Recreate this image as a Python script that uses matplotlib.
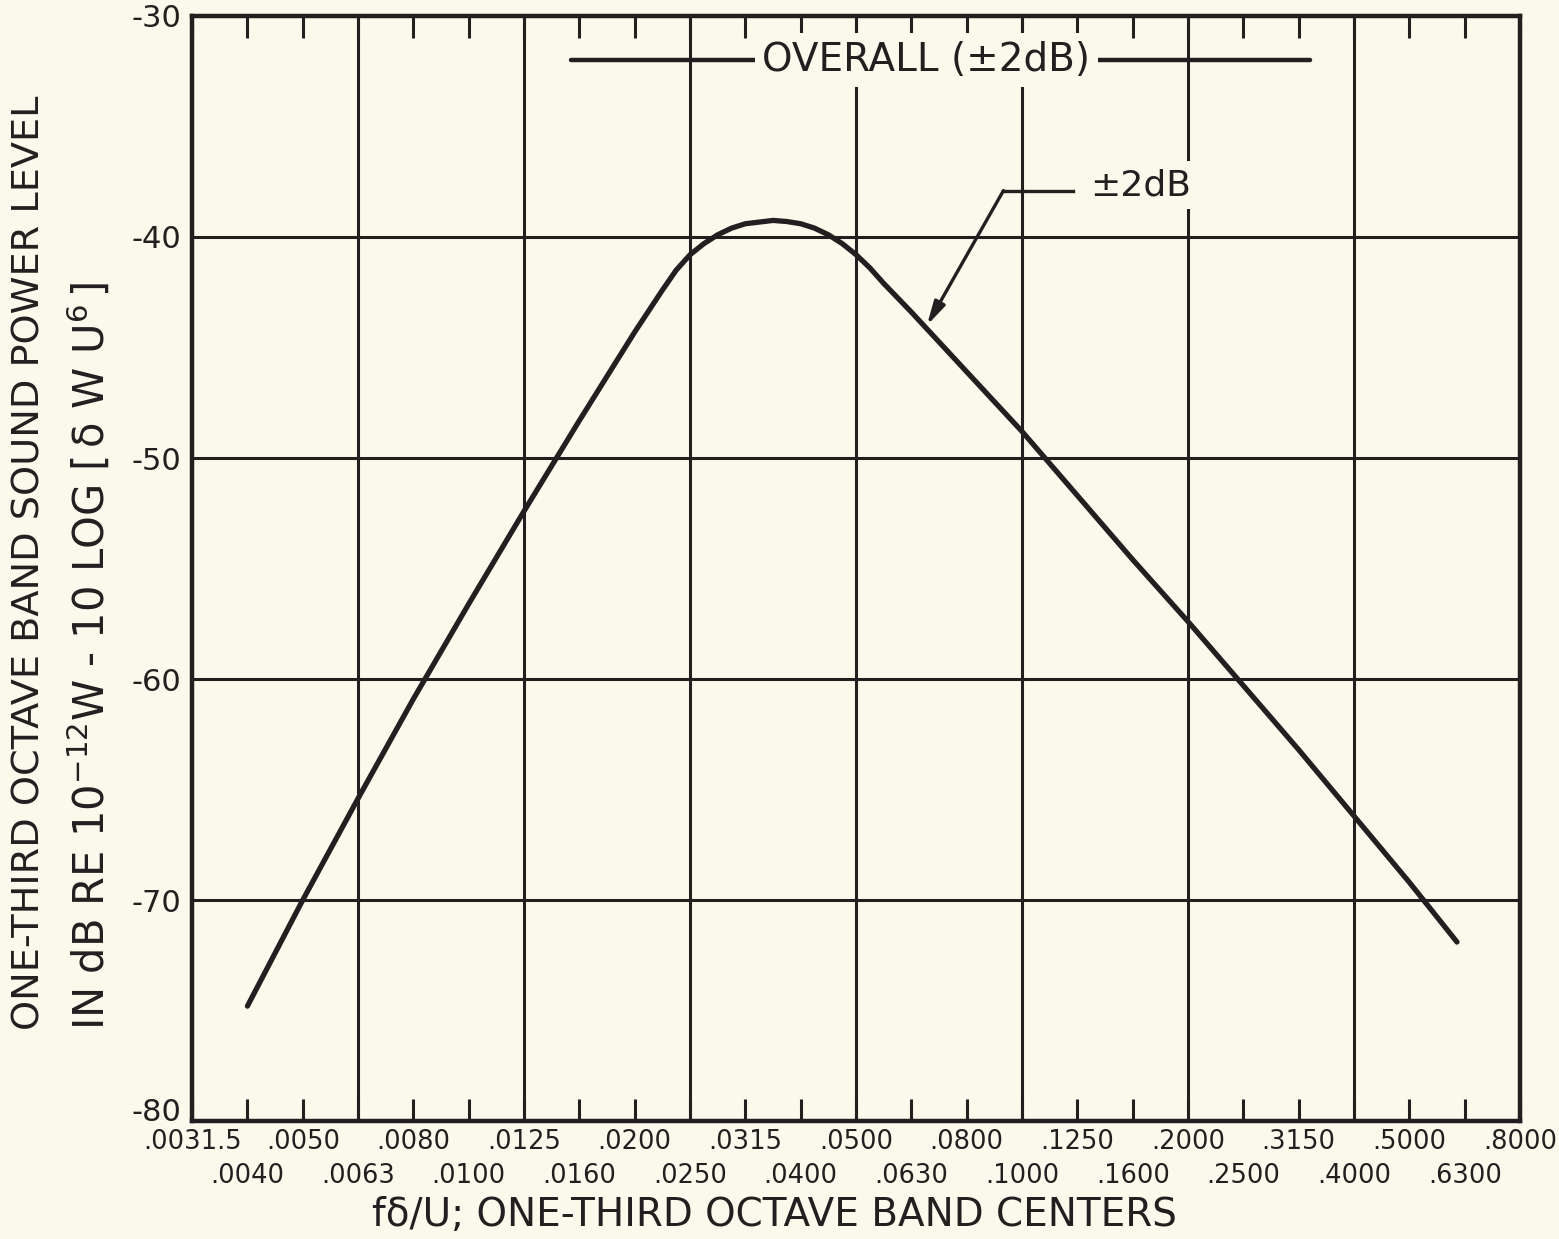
import matplotlib
matplotlib.use("Agg")
import matplotlib.pyplot as plt
from matplotlib.ticker import FixedLocator, FixedFormatter
from matplotlib.transforms import ScaledTranslation

# one-third octave band centers (f delta / U), preferred-number values
band_centers = [0.003162, 0.003981, 0.005012, 0.00631, 0.007943, 0.01, 0.01259,
                0.01585, 0.01995, 0.02512, 0.03162, 0.03981, 0.05012, 0.0631,
                0.07943, 0.1, 0.1259, 0.1585, 0.1995, 0.2512, 0.3162, 0.3981,
                0.5012, 0.631, 0.7943]
upper_labels = [".0031.5", ".0050", ".0080", ".0125", ".0200", ".0315", ".0500",
                ".0800", ".1250", ".2000", ".3150", ".5000", ".8000"]
lower_labels = [".0040", ".0063", ".0100", ".0160", ".0250", ".0400", ".0630",
                ".1000", ".1600", ".2500", ".4000", ".6300"]
grid_bands = [0.00631, 0.01259, 0.02512, 0.05012, 0.1, 0.1995, 0.3981]
y_ticks = [-80, -70, -60, -50, -40, -30]
y_labels = ["-80", "-70", "-60", "-50", "-40", "-30"]

# spectrum curve
curve_f = [0.003981, 0.005012, 0.00631, 0.007943, 0.01, 0.01259, 0.01585,
           0.01995, 0.02239, 0.02371, 0.02512, 0.02661, 0.02818, 0.02985,
           0.03162, 0.03548, 0.03758, 0.03981, 0.04217, 0.04467, 0.04732,
           0.05012, 0.05309, 0.05623, 0.0631, 0.07943, 0.1, 0.1259, 0.1585,
           0.1995, 0.2512, 0.3162, 0.3981, 0.5012, 0.611]
curve_db = [-74.8, -70.0, -65.4, -60.9, -56.6, -52.4, -48.3, -44.3, -42.4,
            -41.5, -40.8, -40.3, -39.9, -39.6, -39.4, -39.25, -39.3, -39.4,
            -39.6, -39.9, -40.3, -40.8, -41.4, -42.1, -43.4, -46.1, -48.8,
            -51.7, -54.6, -57.4, -60.3, -63.2, -66.2, -69.2, -71.9]

# annotation target on the curve
arrow_f = 0.0673
arrow_db = -44.0

BG = "#fbf8ec"
INK = "#231f20"

plt.rcParams["font.family"] = ["DejaVu Sans"]

fig = plt.figure(figsize=(15.59, 12.39), dpi=100, facecolor=BG)
ax = fig.add_axes([0.1232, 0.0952, 0.8518, 0.8919])
ax.set_facecolor(BG)

ax.set_xscale("log")
ax.set_xlim(band_centers[0], band_centers[-1])
ax.set_ylim(-80, -30)

major = band_centers[0::2]
minor = band_centers[1::2]
ax.xaxis.set_major_locator(FixedLocator(major))
ax.xaxis.set_major_formatter(FixedFormatter(upper_labels))
ax.xaxis.set_minor_locator(FixedLocator(minor))
ax.xaxis.set_minor_formatter(FixedFormatter(lower_labels))
ax.tick_params(axis="x", which="both", direction="in", length=16, width=2.2,
               color=INK, top=True, labelsize=18.5, labelcolor=INK)
ax.tick_params(axis="x", which="major", pad=6)
ax.tick_params(axis="x", which="minor", pad=30)

ax.set_yticks(y_ticks)
ax.set_yticklabels(y_labels)
ax.tick_params(axis="y", length=0, pad=8, labelsize=22, labelcolor=INK)
# the bottom value sits a little higher, clear of the first band label
lab80 = ax.get_yticklabels()[0]
lab80.set_transform(lab80.get_transform() + ScaledTranslation(0, 8 / 72, fig.dpi_scale_trans))

for y in y_ticks[1:-1]:
    ax.axhline(y, color=INK, lw=2.2, zorder=1)
for x in grid_bands:
    ax.axvline(x, color=INK, lw=2.2, zorder=1)

for s in ax.spines.values():
    s.set_color(INK)
    s.set_linewidth(3.2)
    s.set_zorder(5)

ax.plot(curve_f, curve_db, color=INK, lw=3.8, solid_capstyle="round",
        solid_joinstyle="round", zorder=3)

# "OVERALL" band with its leader line
ax.plot([0.285, 0.842], [0.960, 0.960], transform=ax.transAxes, color=INK,
        lw=3.2, zorder=2, solid_capstyle="round")
ax.text(0.553, 0.960, "OVERALL (±2dB)", transform=ax.transAxes, ha="center",
        va="center", fontsize=28, color=INK, zorder=4,
        bbox=dict(boxstyle="square,pad=0.2", fc=BG, ec="none"))

# "±2dB" label with arrow to the curve
ax.plot([0.663, 0.611], [0.842, 0.842], transform=ax.transAxes, color=INK,
        lw=2.4, zorder=4)
ax.annotate("", xy=(arrow_f, arrow_db), xycoords="data",
            xytext=(0.611, 0.842), textcoords="axes fraction",
            arrowprops=dict(arrowstyle="-|>,head_length=1.4,head_width=0.35",
                            color=INK, lw=2.4, shrinkA=0, shrinkB=0), zorder=4)
ax.text(0.676, 0.847, "±2dB", transform=ax.transAxes, ha="left", va="center",
        fontsize=26, color=INK, zorder=4,
        bbox=dict(boxstyle="square,pad=0.2", fc=BG, ec="none"))

# axis titles
fig.text(0.497, 0.0194, "fδ/U; ONE-THIRD OCTAVE BAND CENTERS", ha="center",
         va="center", fontsize=28, color=INK)
fig.text(0.019, 0.169, "ONE-THIRD OCTAVE BAND SOUND POWER LEVEL", rotation=90,
         ha="center", va="bottom", fontsize=27.5, color=INK)
fig.text(0.058, 0.169,
         r"IN dB RE 10$^{-12}$W - 10 LOG $\left[\,\mathrm{\delta}\ \mathrm{W}\ \mathrm{U}^{6}\,\right]$",
         rotation=90, ha="center", va="bottom", fontsize=30, color=INK)

fig.savefig("out.png", dpi=100, facecolor=BG)
